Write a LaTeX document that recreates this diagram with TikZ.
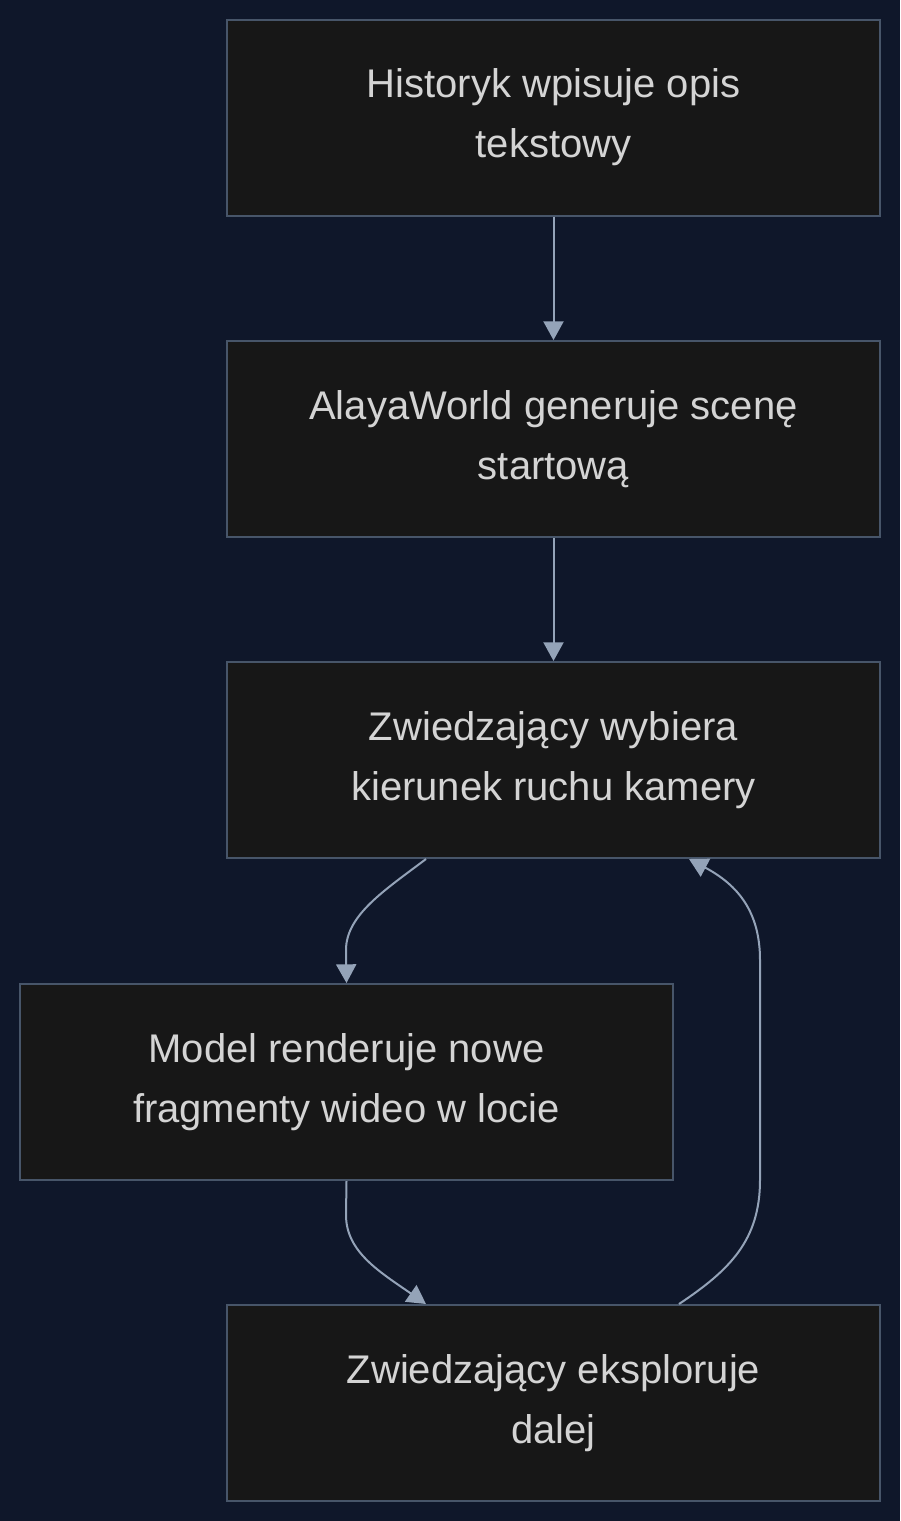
\documentclass[tikz,border=0pt]{standalone}
\usepackage{fontspec}
\setmainfont{Liberation Sans}
\usepackage{tikz}
\usetikzlibrary{arrows.meta, calc}

\definecolor{bgnavy}{HTML}{0F172A}
\definecolor{boxfill}{HTML}{171717}
\definecolor{boxline}{HTML}{475569}
\definecolor{edgecol}{HTML}{94A3B8}
\definecolor{txtcol}{HTML}{D4D4D4}

\tikzset{
  stepbox/.style={draw=boxline, fill=boxfill, line width=1.5pt, minimum width=489.75pt, minimum height=147pt,
    align=center, text=txtcol, font=\fontsize{30pt}{45pt}\selectfont, inner sep=0pt},
  flow/.style={draw=edgecol, line width=1.5pt, -{Triangle[width=15pt,length=14pt]}}
}

\begin{document}
\begin{tikzpicture}[x=0.75pt,y=0.75pt,yscale=-1,xscale=1]
%Background
\fill[bgnavy] (0,0) rectangle (900,1521);
\useasboundingbox (0,0) rectangle (900,1521);

%Shape: Rectangle
\node[stepbox] (opis) at (553.5,117.5) {Historyk wpisuje opis\\tekstowy};
%Shape: Rectangle
\node[stepbox] (scena) at (553.5,439) {AlayaWorld generuje scenę\\startową};
%Shape: Rectangle
\node[stepbox] (kierunek) at (553.5,760) {Zwiedzający wybiera\\kierunek ruchu kamery};
%Shape: Rectangle
\node[stepbox] (render) at (346.5,1082) {Model renderuje nowe\\fragmenty wideo w locie};
%Shape: Rectangle
\node[stepbox] (dalej) at (553.5,1403) {Zwiedzający eksploruje\\dalej};

%Straight Lines
\draw[flow] (opis.south) -- (scena.north);
\draw[flow] (scena.south) -- (kierunek.north);

%Curve Lines
\draw[flow] ($(kierunek.south west)+(200,0)$) .. controls (385,890) and (346,915) .. (346,950) -- (render.north);
%Curve Lines
\draw[flow] (render.south) -- (346,1215) .. controls (346,1252) and (380,1272) .. ($(dalej.north west)+(200,0)$);
%Curve Lines
\draw[flow] ($(dalej.north west)+(453,0)$) .. controls (730,1270) and (760,1240) .. (760,1180) -- (760,960) .. controls (760,912) and (738,885) .. ($(kierunek.south west)+(463,0)$);

\end{tikzpicture}
\end{document}
